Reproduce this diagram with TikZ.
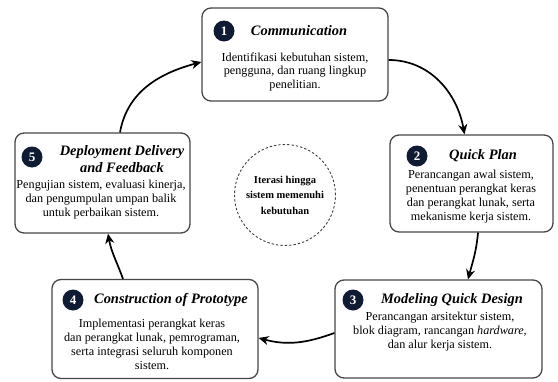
\documentclass[tikz,border=0pt]{standalone}
\usepackage{fontspec}
\setmainfont{Liberation Serif}
\usetikzlibrary{arrows.meta,positioning}
\definecolor{tua}{HTML}{0F1B33}

\begin{document}
\begin{tikzpicture}[x=1pt,y=1pt,
        tahap/.style={draw=black!72, line width=1.3pt, rounded corners=9pt, fill=white},
        nomor/.style={circle, fill=tua, text=white, inner sep=0pt, minimum size=21pt,
            font=\bfseries\fontsize{13}{13}\selectfont},
        judul/.style={align=center, inner sep=0pt, font=\bfseries\itshape\fontsize{14.4}{17}\selectfont},
        isi/.style={align=center, inner sep=0pt, font=\fontsize{12.2}{14}\selectfont},
        alur/.style={-{Stealth[length=10pt,width=9pt]}, line width=1.7pt}]
            \useasboundingbox (0,0) rectangle (558,-381);
            % kotak tiap tahap
            \node[tahap, minimum width=186pt, minimum height=93pt] (comm) at (295,-54.5) {};
            \node[tahap, minimum width=163pt, minimum height=97pt] (plan) at (471.5,-183.5) {};
            \node[tahap, minimum width=207pt, minimum height=98pt] (design) at (438.5,-329) {};
            \node[tahap, minimum width=206pt, minimum height=99pt] (proto) at (155,-329) {};
            \node[tahap, minimum width=175pt, minimum height=100pt] (deploy) at (102.5,-183) {};
            % lingkaran tengah
            \node[draw=black!75, circle, dash pattern=on 2.4pt off 2pt, line width=0.9pt,
                minimum size=101pt, align=center, font=\bfseries\fontsize{10.5}{15.5}\selectfont]
                (iterasi) at (285,-195) {Iterasi hingga\\sistem memenuhi\\kebutuhan};

            \node[nomor] (comm-no) at (224,-31) {1};
            \node[judul] (comm-judul) at (299,-31) {Communication};
            \node[isi] (comm-isi) at (295,-72) {Identifikasi kebutuhan sistem,\\pengguna, dan ruang lingkup\\penelitian.};

            \node[nomor] (plan-no) at (417,-156) {2};
            \node[judul] (plan-judul) at (483,-156) {Quick Plan};
            \node[isi] (plan-isi) at (471,-197) {Perancangan awal sistem,\\penentuan perangkat keras\\dan perangkat lunak, serta\\mekanisme kerja sistem.};

            \node[nomor] (design-no) at (353,-300) {3};
            \node[judul] (design-judul) at (452,-300) {Modeling Quick Design};
            \node[isi] (design-isi) at (440,-331.5) {Perancangan arsitektur sistem,\\blok diagram, rancangan \textit{hardware},\\dan alur kerja sistem.};

            \node[nomor] (proto-no) at (73,-300) {4};
            \node[judul] (proto-judul) at (171,-300) {Construction of Prototype};
            \node[isi] (proto-isi) at (152,-344) {Implementasi perangkat keras\\dan perangkat lunak, pemrograman,\\serta integrasi seluruh komponen\\sistem.};

            \node[nomor] (deploy-no) at (32,-157) {5};
            \node[judul] (deploy-judul) at (122,-159) {Deployment Delivery\\and Feedback};
            \node[isi] (deploy-isi) at (101,-200) {Pengujian sistem, evaluasi kinerja,\\dan pengumpulan umpan balik\\untuk perbaikan sistem.};

            % panah siklus
            \draw[alur] ([yshift=-5.5pt]comm.east) to[out=0, in=100] ([xshift=-7pt]plan.north);
            \draw[alur] ([xshift=6.5pt]plan.south) to[out=-95, in=75] ([xshift=29.5pt]design.north);
            \draw[alur] ([yshift=-4pt]design.west) to[out=200, in=-15] ([yshift=-9pt]proto.east);
            \draw[alur] ([xshift=-32pt]proto.north) to[out=110, in=-80] ([xshift=5.5pt]deploy.south);
            \draw[alur] ([xshift=17.5pt]deploy.north) to[out=80, in=195] ([yshift=-7.5pt]comm.west);
\end{tikzpicture}
\end{document}
